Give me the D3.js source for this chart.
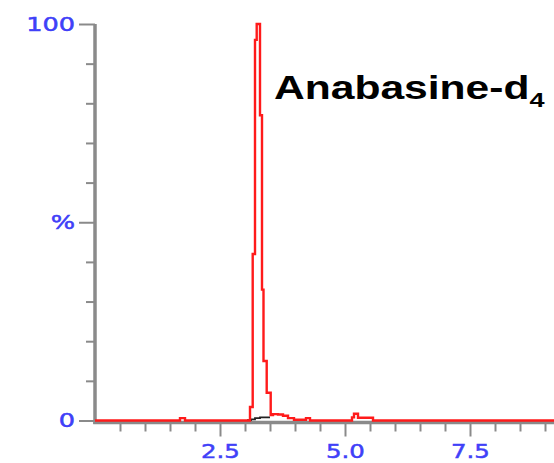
<!DOCTYPE html>
<html>
<head>
<meta charset="utf-8">
<script src="https://cdn.jsdelivr.net/npm/d3@7"></script>
<style>
  body { margin: 0; background: #fff; }
</style>
</head>
<body>
<div id="chart"></div>
<script>
// Chromatogram trace (time in min, relative intensity %)
const redTimes  = [0, 1.70, 1.80, 3.10, 3.154, 3.20, 3.234, 3.30, 3.34, 3.37, 3.434, 3.514, 3.56, 3.66, 3.76, 3.86, 3.98, 4.22, 4.30, 5.14, 5.18, 5.26, 5.56, 9.2];
const redValues = [0, 0.6, 0, 3.4, 42, 96, 100, 77, 33, 15, 7, 1.4, 1.6, 1.5, 1.2, 0.6, 0.2, 0.6, 0, 0.8, 1.7, 0.7, 0, 0];
const blackTimes  = [3.04, 3.12, 3.20, 3.30, 3.50];
const blackValues = [0.1, 0.3, 0.6, 0.8, 0.8];

const xTicks = [0.5, 1, 1.5, 2, 2.5, 3, 3.5, 4, 4.5, 5, 5.5, 6, 6.5, 7, 7.5, 8, 8.5, 9];
const xMajor = [2.5, 5, 7.5];
const yTicks = [0, 10, 20, 30, 40, 50, 60, 70, 80, 90, 100];
const yLabels = {0: "0", 50: "%", 100: "100"};
const title = "Anabasine-d";
const titleSub = "4";

const width = 554, height = 463;
const axisGray = "#8a8a8a";
const labelBlue = "#4040f8";

const x = d3.scaleLinear().domain([0, 9.2]).range([95, 555]);
const y = d3.scaleLinear().domain([0, 100]).range([420.5, 24]);

const svg = d3.select("#chart").append("svg")
    .attr("width", width)
    .attr("height", height)
    .style("background", "#fff");

// y axis
const yAxis = svg.append("g")
    .attr("transform", "translate(95,0)")
    .call(d3.axisLeft(y).tickValues(yTicks).tickSizeOuter(0).tickSize(9)
        .tickFormat(d => yLabels[d] || ""));
yAxis.select(".domain").attr("stroke", axisGray).attr("stroke-width", 3.5)
    .attr("d", `M0,${y(100)}V${y(0) + 3.5}`);
yAxis.selectAll(".tick line").attr("stroke", axisGray).attr("stroke-width", 2)
    .attr("x2", d => (d % 50 === 0 ? -16 : -9));
yAxis.selectAll(".tick text")
    .attr("x", 0)
    .attr("transform", "translate(-20,0) scale(1.28,1)")
    .attr("fill", labelBlue)
    .attr("stroke", labelBlue)
    .attr("stroke-width", 0.5)
    .style("font-family", "'DejaVu Sans', Verdana, sans-serif")
    .style("font-size", "20px");

// x axis
const xAxis = svg.append("g")
    .attr("transform", "translate(0,422.5)")
    .call(d3.axisBottom(x).tickValues(xTicks).tickSizeOuter(0).tickSize(9)
        .tickFormat(d => (xMajor.includes(d) ? d3.format(".1f")(d) : "")));
xAxis.select(".domain").attr("stroke", axisGray).attr("stroke-width", 3.5)
    .attr("d", `M${x(0) - 1.75},0H${width}`);
xAxis.selectAll(".tick line").attr("stroke", axisGray).attr("stroke-width", 2)
    .attr("y1", 1.5)
    .attr("y2", d => (xMajor.includes(d) ? 14 : 9));
xAxis.selectAll(".tick text")
    .attr("y", 0)
    .attr("dy", 0)
    .attr("transform", "translate(0,35) scale(1.22,1)")
    .attr("fill", labelBlue)
    .attr("stroke", labelBlue)
    .attr("stroke-width", 0.5)
    .style("font-family", "'DejaVu Sans', Verdana, sans-serif")
    .style("font-size", "20px");

// traces
const blackLine = d3.line()
    .x((d, i) => x(blackTimes[i]))
    .y(d => y(d))
    .curve(d3.curveStepAfter);
svg.append("path")
    .attr("d", blackLine(blackValues))
    .attr("fill", "none")
    .attr("stroke", "#222")
    .attr("stroke-width", 1.8);

const redLine = d3.line()
    .x((d, i) => x(redTimes[i]))
    .y(d => y(d))
    .curve(d3.curveStepAfter);
svg.append("path")
    .attr("d", redLine(redValues))
    .attr("fill", "none")
    .attr("stroke", "#ff1a1a")
    .attr("stroke-width", 2.4);

// compound label
const t = svg.append("g").attr("transform", "translate(274,99) scale(1.29,1)");
const tt = t.append("text")
    .attr("x", 0).attr("y", 0)
    .style("font-family", "'Liberation Sans', Arial, sans-serif")
    .style("font-weight", "bold")
    .style("font-size", "33px")
    .attr("fill", "#000");
tt.append("tspan").text(title);
tt.append("tspan").attr("dy", 8).style("font-size", "21px").text(titleSub);
</script>
</body>
</html>
